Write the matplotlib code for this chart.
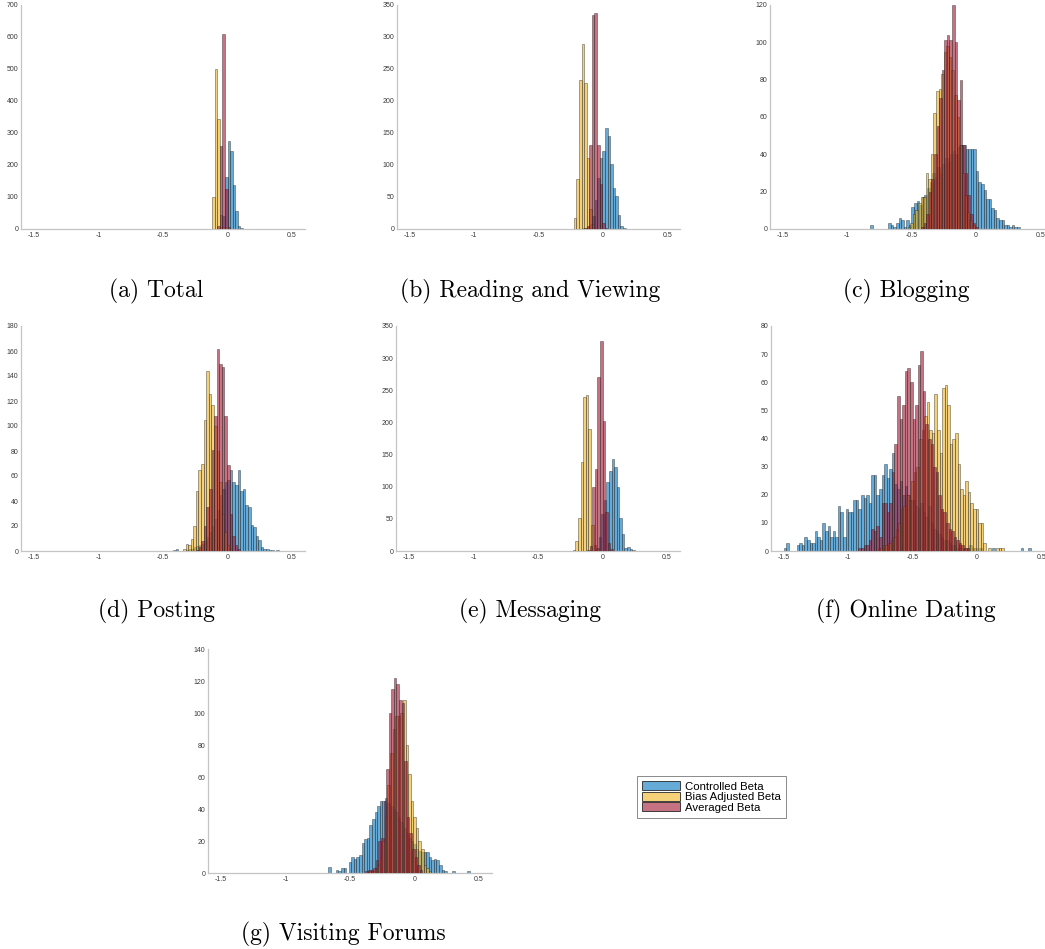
import matplotlib
matplotlib.use("Agg")
import matplotlib.pyplot as plt
from matplotlib.patches import Patch
import numpy as np

# ---------------- data ----------------
BIN_WIDTH = 0.02
series_names = ["Controlled Beta", "Bias Adjusted Beta", "Averaged Beta"]
panel_titles = ["(a) Total", "(b) Reading and Viewing", "(c) Blogging",
                "(d) Posting", "(e) Messaging", "(f) Online Dating",
                "(g) Visiting Forums"]
x_ticks = [-1.5, -1, -0.5, 0, 0.5]
x_tick_labels = ["-1.5", "-1", "-0.5", "0", "0.5"]
y_max = [700, 350, 120, 180, 350, 80, 140]
y_step = [100, 50, 20, 20, 50, 10, 20]

# (a) Total  -- first bin edge + counts per bin
total_ctrl_start = -0.04
total_ctrl = [40, 163, 275, 244, 138, 55, 8, 2]
total_bias_start = -0.12
total_bias = [100, 500, 345, 45, 5]
total_avg_start = -0.08
total_avg = [8, 258, 608, 125, 5]

# (b) Reading and Viewing
reading_ctrl_start = -0.163
reading_ctrl = [1, 2, 3, 8, 20, 45, 79, 111, 122, 158, 145, 101, 64, 51, 22, 5, 1]
reading_bias_start = -0.225
reading_bias = [17, 78, 233, 289, 228, 111, 32, 8, 2]
reading_avg_start = -0.145
reading_avg = [2, 5, 132, 335, 338, 132, 70, 10, 2]

# (c) Blogging
blog_ctrl_start = -0.82
blog_ctrl = [2, 0, 0, 0, 0, 0, 0, 3, 2, 1, 3, 6, 5, 1, 5, 2, 12, 14, 15, 13,
             17, 18, 22, 25, 30, 28, 33, 30, 35, 38, 36, 40, 42, 40, 44, 45,
             45, 43, 43, 43, 43, 31, 25, 24, 21, 16, 16, 11, 10, 6, 5, 5, 2,
             2, 1, 2, 1, 1]
blog_bias_start = -0.53
blog_bias = [1, 3, 8, 10, 14, 17, 17, 30, 27, 40, 62, 74, 75, 83, 95, 98, 92,
             85, 72, 60, 45, 30, 18, 9, 5, 2]
blog_avg_start = -0.425
blog_avg = [1, 3, 8, 20, 27, 40, 55, 70, 85, 101, 104, 101, 120, 100, 69, 80,
            45, 30, 18, 8, 3, 1]

# (d) Posting
posting_ctrl_start = -0.422
posting_ctrl = [1, 2, 0, 0, 0, 1, 2, 2, 3, 4, 5, 6, 8, 11, 15, 20, 26, 33, 45,
                50, 55, 57, 65, 55, 53, 65, 48, 50, 37, 35, 21, 19, 12, 9, 3,
                2, 2, 1, 1, 0, 1]
posting_bias_start = -0.345
posting_bias = [2, 6, 5, 10, 20, 48, 65, 70, 105, 144, 126, 117, 100, 80, 55,
                30, 15, 5, 2]
posting_avg_start = -0.244
posting_avg = [1, 3, 8, 20, 35, 50, 81, 108, 162, 150, 147, 108, 69, 30, 12, 5, 2]

# (e) Messaging
msg_ctrl_start = -0.07
msg_ctrl = [2, 5, 22, 58, 80, 107, 125, 143, 130, 100, 52, 27, 5, 7, 3, 1]
msg_bias_start = -0.23
msg_bias = [2, 15, 51, 139, 240, 242, 190, 40, 10, 3]
msg_avg_start = -0.12
msg_avg = [2, 8, 100, 128, 270, 327, 203, 60, 12, 3]

# (f) Online Dating
dating_ctrl_start = -1.50
dating_ctrl = [1, 3, 0, 0, 0, 2, 3, 2, 5, 4, 3, 3, 7, 5, 4, 10, 7, 9, 5, 7, 5,
               16, 14, 5, 15, 14, 14, 18, 18, 15, 20, 19, 20, 17, 27, 27, 20,
               22, 27, 31, 26, 29, 35, 24, 22, 25, 20, 23, 20, 18, 18, 16, 15,
               17, 14, 12, 16, 10, 8, 7, 6, 5, 4, 4, 3, 2, 2, 1, 2, 1, 1, 1, 2,
               1, 1, 0, 1, 0, 0, 0, 0, 1, 0, 0, 0, 0, 0, 0, 0, 0, 0, 0, 1, 0,
               0, 1]
dating_bias_start = -0.77
dating_bias = [1, 1, 2, 2, 3, 4, 5, 8, 10, 15, 16, 20, 18, 25, 28, 30, 40, 43,
               48, 53, 43, 42, 56, 43, 35, 58, 59, 52, 38, 40, 42, 31, 22, 20,
               25, 21, 17, 15, 15, 10, 10, 3, 0, 1, 0, 0, 1, 1, 1]
dating_avg_start = -0.92
dating_avg = [1, 1, 2, 2, 4, 8, 7, 9, 5, 17, 17, 14, 17, 28, 38, 55, 47, 52, 64,
              65, 60, 47, 52, 66, 71, 57, 45, 40, 38, 30, 28, 20, 15, 14, 10, 8,
              7, 5, 4, 3, 2, 1, 1]

# (g) Visiting Forums
forum_ctrl_start = -0.67
forum_ctrl = [4, 0, 0, 2, 1, 3, 3, 0, 7, 10, 9, 10, 11, 19, 21, 22, 30, 34, 38,
              42, 45, 45, 47, 44, 42, 40, 38, 35, 32, 28, 25, 22, 20, 18, 15,
              14, 13, 13, 13, 10, 8, 9, 8, 5, 2, 1, 0, 0, 1, 0, 0, 0, 0, 0, 1]
forum_bias_start = -0.35
forum_bias = [1, 1, 3, 5, 10, 20, 35, 55, 75, 90, 98, 98, 100, 108, 80, 62, 45,
              35, 28, 20, 15, 5, 3, 1]
forum_avg_start = -0.38
forum_avg = [1, 2, 2, 3, 8, 20, 22, 45, 65, 100, 115, 122, 118, 108, 106, 70,
             35, 25, 15, 10, 5, 2]

panels = [
    [(total_ctrl_start, total_ctrl), (total_bias_start, total_bias), (total_avg_start, total_avg)],
    [(reading_ctrl_start, reading_ctrl), (reading_bias_start, reading_bias), (reading_avg_start, reading_avg)],
    [(blog_ctrl_start, blog_ctrl), (blog_bias_start, blog_bias), (blog_avg_start, blog_avg)],
    [(posting_ctrl_start, posting_ctrl), (posting_bias_start, posting_bias), (posting_avg_start, posting_avg)],
    [(msg_ctrl_start, msg_ctrl), (msg_bias_start, msg_bias), (msg_avg_start, msg_avg)],
    [(dating_ctrl_start, dating_ctrl), (dating_bias_start, dating_bias), (dating_avg_start, dating_avg)],
    [(forum_ctrl_start, forum_ctrl), (forum_bias_start, forum_bias), (forum_avg_start, forum_avg)],
]

# ---------------- style / layout ----------------
W, H = 1045, 949
colors = [(0.0, 0.447, 0.741), (0.929, 0.694, 0.125), (0.635, 0.078, 0.184)]
FACE_ALPHA = 0.6
EDGE = (0.15, 0.15, 0.15, 0.7)

# axes boxes in pixels: left, top, right, bottom
axes_px = [
    (21, 5, 305, 229), (397, 5, 680, 229), (770, 5, 1053, 229),
    (21, 326, 305, 551), (396, 326, 680, 551), (771, 326, 1054, 551),
    (208, 649, 492, 873),
]
caption_px = [(156, 297), (530, 297), (906, 297),
              (156, 617), (530, 617), (906, 617),
              (343, 940)]

fig = plt.figure(figsize=(W / 100, H / 100), dpi=100)
fig.patch.set_facecolor("white")

tick_font = "Liberation Sans"
for i, series in enumerate(panels):
    l, t, r, b = axes_px[i]
    ax = fig.add_axes([l / W, 1 - b / H, (r - l) / W, (b - t) / H])
    for k, (start, counts) in enumerate(series):
        counts = np.asarray(counts, dtype=float)
        edges = start + BIN_WIDTH * np.arange(len(counts))
        ax.bar(edges, counts, width=BIN_WIDTH, align="edge",
               facecolor=colors[k] + (FACE_ALPHA,), edgecolor=EDGE,
               linewidth=0.4, zorder=2 + k)
    ax.set_xlim(-1.6, 0.6)
    ax.set_ylim(0, y_max[i])
    ax.set_xticks(x_ticks)
    ax.set_xticklabels(x_tick_labels)
    ax.set_yticks(np.arange(0, y_max[i] + 1, y_step[i]))
    ax.set_yticklabels([str(v) for v in np.arange(0, y_max[i] + 1, y_step[i])])
    for s in ("top", "right"):
        ax.spines[s].set_visible(False)
    for s in ("left", "bottom"):
        ax.spines[s].set_color("#c4c4c4")
        ax.spines[s].set_linewidth(0.9)
    ax.tick_params(length=0, labelsize=5.0, labelcolor="#3a3a3a", pad=2.0)
    for lab in ax.get_xticklabels() + ax.get_yticklabels():
        lab.set_family(tick_font)
    ax.patch.set_alpha(0)

    cx, cy = caption_px[i]
    fig.text(cx / W, 1 - cy / H, panel_titles[i], ha="center", va="baseline",
             family="cmr10", fontsize=17, color="black")

handles = [Patch(facecolor=colors[k] + (FACE_ALPHA,), edgecolor=(0.15, 0.15, 0.15),
                 linewidth=0.6, label=series_names[k]) for k in range(3)]
leg = fig.legend(handles=handles, loc="upper left",
                 bbox_to_anchor=(637 / W, 1 - 776 / H),
                 frameon=True, fancybox=False, framealpha=1,
                 edgecolor="#8a8a8a",
                 prop={"family": tick_font, "size": 8.2},
                 handlelength=3.3, handleheight=0.85, handletextpad=0.45,
                 labelspacing=0.0, borderpad=0.45, borderaxespad=0)
leg.get_frame().set_linewidth(0.7)

fig.savefig("out.png", dpi=100, facecolor="white")
